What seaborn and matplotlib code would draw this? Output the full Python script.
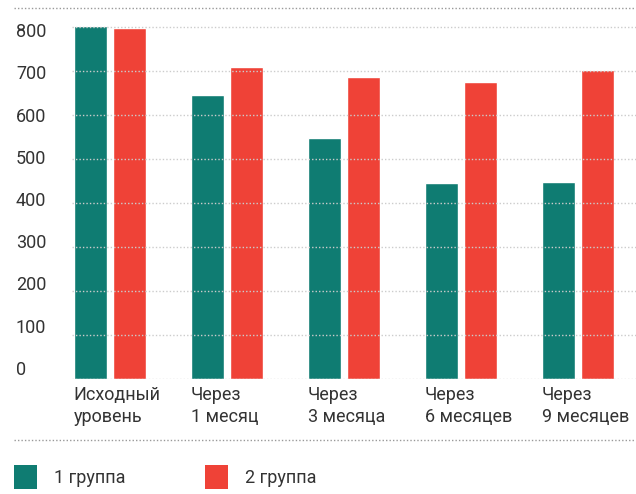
import matplotlib
matplotlib.use('Agg')
import matplotlib.pyplot as plt
import matplotlib.transforms as mtransforms
import seaborn as sns
import pandas as pd
from matplotlib.patches import Patch
from matplotlib.lines import Line2D

# данные
categories = ['Исходный\nуровень', 'Через\n1 месяц', 'Через\n3 месяца', 'Через\n6 месяцев', 'Через\n9 месяцев']
group1 = [802, 645, 548, 445, 448]
group2 = [797, 709, 686, 675, 702]
groups = ['1 группа', '2 группа']
yticks = [0, 100, 200, 300, 400, 500, 600, 700, 800]
colors = ['#0f7c72', '#ef4237']
text_color = '#333333'

df = pd.DataFrame({
    'cat': categories * 2,
    'value': group1 + group2,
    'group': [groups[0]] * len(categories) + [groups[1]] * len(categories),
})

sns.set_theme(style='white')
plt.rcParams['font.family'] = ['Roboto', 'DejaVu Sans']

W, H = 636, 494
fig = plt.figure(figsize=(W / 100, H / 100), dpi=100)
ax = fig.add_axes([72 / W, (H - 379) / H, (W - 72) / W, 356.4 / H])

sns.barplot(data=df, x='cat', y='value', hue='group', palette=colors,
            width=0.66, gap=0.15, saturation=1, legend=False, ax=ax)

ax.set_xlim(-0.325, 4.496)
ax.set_ylim(0, 810)
ax.set_xlabel('')
ax.set_ylabel('')
sns.despine(ax=ax, left=True, bottom=True)

# пунктирная сетка поверх столбцов
ax.set_yticks(yticks)
ax.set_axisbelow(False)
ax.yaxis.grid(True, linestyle=(0, (1, 1.5)), color='#cccccc', lw=1)
ax.tick_params(length=0, labelleft=False, labelbottom=False)

# подписи оси Y
ytr = mtransforms.blended_transform_factory(ax.transAxes, ax.transData)
for v in yticks:
    ax.text(-0.0993, 20.5 + v * 0.96, str(v), transform=ytr, ha='left', va='center',
            fontsize=13, color=text_color)

# подписи категорий
xtr = mtransforms.blended_transform_factory(ax.transData, ax.transAxes)
for i, c in enumerate(categories):
    ax.text(i - 0.31, -0.02, c, transform=xtr, ha='left', va='top',
            fontsize=13, color=text_color, linespacing=1.25)

# пунктирные линии сверху и снизу
for yy in [8, 440]:
    fig.add_artist(Line2D([14 / W, 1], [1 - yy / H] * 2, transform=fig.transFigure,
                          ls=(0, (1, 1.5)), color='#999999', lw=1))

handles = [Patch(facecolor=c, edgecolor='none', label=g) for c, g in zip(colors, groups)]
fig.legend(handles=handles, loc='center left', bbox_to_anchor=(14 / W, 1 - 477 / H),
           ncol=2, frameon=False, fontsize=13, handlelength=1.28, handleheight=1.6,
           handletextpad=0.95, columnspacing=4.4, borderpad=0, borderaxespad=0,
           labelcolor=text_color)

fig.savefig('out.png', dpi=100)
